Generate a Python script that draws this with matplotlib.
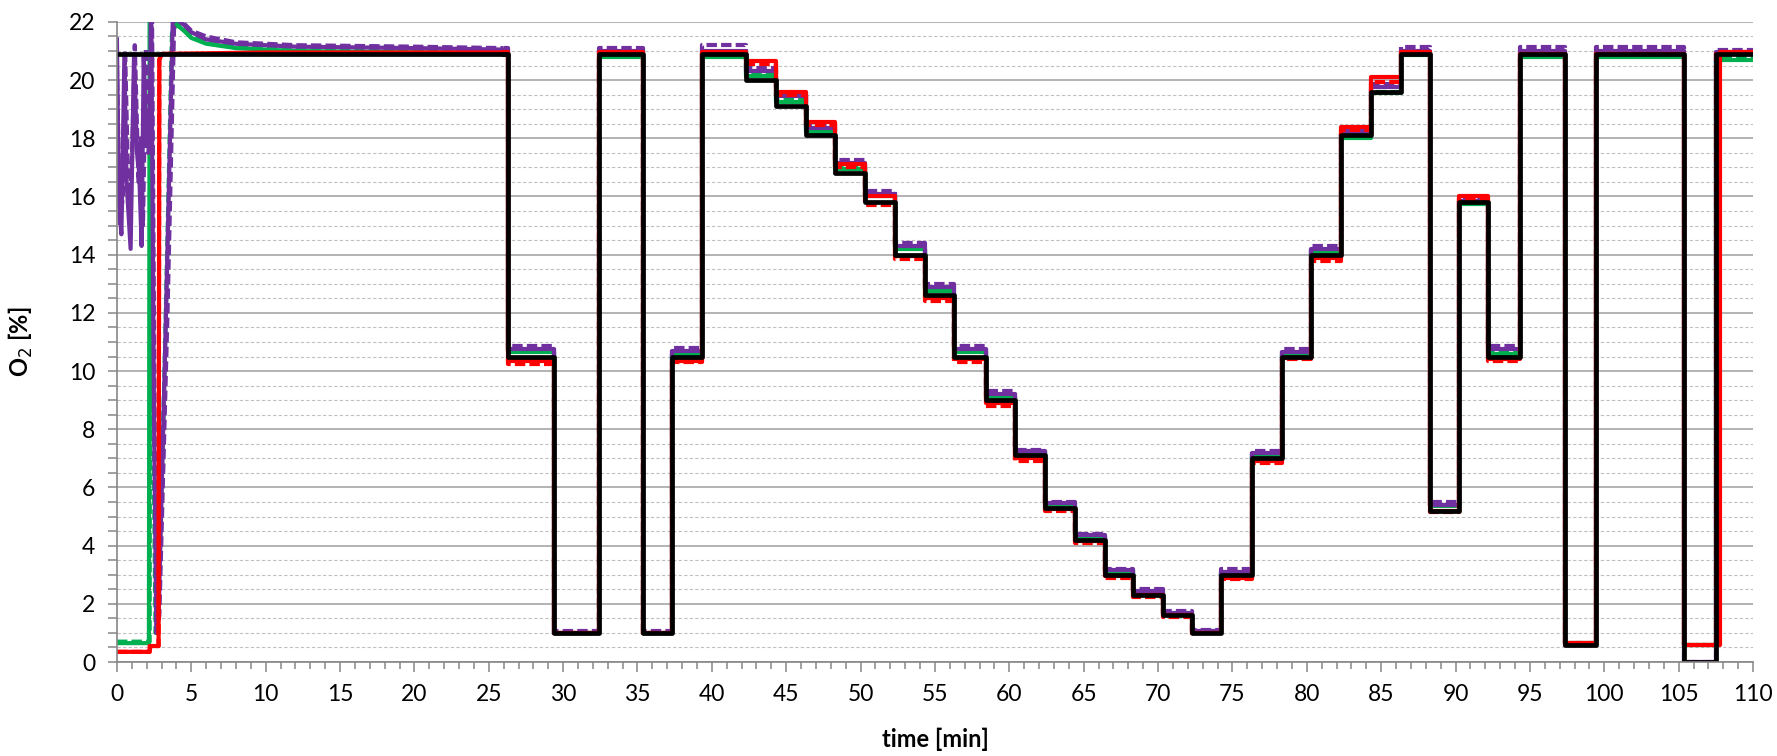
import matplotlib
matplotlib.use("Agg")
from matplotlib import pyplot as plt
from matplotlib.ticker import MultipleLocator

# times [min] where the set point changes (last entry = end of run)
step_times = [26.3, 29.4, 32.4, 35.4, 37.3, 39.35, 42.3, 44.3, 46.3, 48.3, 50.3,
              52.3, 54.3, 56.3, 58.4, 60.4, 62.4, 64.4, 66.4, 68.3, 70.35, 72.3,
              74.25, 76.3, 78.3, 80.3, 82.3, 84.3, 86.3, 88.3, 90.2, 92.2, 94.35,
              97.35, 99.45, 105.35, 107.5, 110]
# the red sensor comes back a bit later after the last purge
red_times = step_times[:-2] + [107.75, 110]

# O2 level held after each change
black_lv = [10.5, 1.0, 20.9, 1.0, 10.5, 20.9, 20.0, 19.1, 18.1, 16.8, 15.8, 14.0, 12.6,
            10.5, 9.0, 7.1, 5.3, 4.2, 3.0, 2.3, 1.6, 1.0, 3.0, 7.0, 10.5, 14.0, 18.1,
            19.6, 20.9, 5.2, 15.8, 10.5, 20.9, 0.6, 20.9, 0.0, 20.9]
red_lv = [10.35, 1.0, 20.95, 1.0, 10.35, 20.95, 20.65, 19.6, 18.55, 17.1, 16.0, 13.95,
          12.5, 10.4, 8.9, 7.0, 5.25, 4.15, 2.95, 2.3, 1.6, 1.0, 2.9, 6.9, 10.45, 13.9,
          18.4, 20.1, 20.95, 5.2, 16.0, 10.4, 20.9, 0.65, 20.9, 0.6, 20.95]
red2_lv = [10.25, 1.0, 20.9, 1.0, 10.3, 20.9, 20.55, 19.5, 18.45, 17.0, 15.7, 13.85,
           12.4, 10.3, 8.8, 6.9, 5.2, 4.1, 2.9, 2.25, 1.55, 1.0, 2.85, 6.85, 10.4, 13.8,
           18.3, 19.95, 20.9, 5.15, 15.9, 10.35, 20.9, 0.6, 20.9, 0.6, 20.9]
green_lv = [10.65, 1.0, 20.8, 1.0, 10.6, 20.8, 20.15, 19.25, 18.2, 16.95, 16.0, 14.2,
            12.75, 10.65, 9.1, 7.2, 5.4, 4.3, 3.1, 2.4, 1.65, 1.05, 3.05, 7.1, 10.55,
            14.1, 18.0, 19.55, 20.85, 5.35, 15.75, 10.6, 20.8, 0.65, 20.8, 0.6, 20.7]
green2_lv = [10.7, 1.0, 20.85, 1.0, 10.65, 20.85, 20.2, 19.3, 18.25, 17.0, 16.05, 14.25,
             12.8, 10.7, 9.15, 7.25, 5.45, 4.35, 3.15, 2.45, 1.7, 1.05, 3.1, 7.15, 10.6,
             14.15, 18.1, 19.6, 20.9, 5.4, 15.8, 10.65, 20.85, 0.65, 20.85, 0.6, 20.75]
purple_lv = [10.75, 1.0, 21.0, 1.0, 10.7, 21.0, 20.3, 19.45, 18.35, 17.15, 16.1, 14.3,
             12.9, 10.75, 9.2, 7.25, 5.45, 4.35, 3.15, 2.45, 1.7, 1.05, 3.1, 7.2, 10.65,
             14.2, 18.15, 19.75, 21.0, 5.4, 15.85, 10.75, 21.0, 0.6, 21.0, 0.0, 20.95]
purple2_lv = [10.85, 1.05, 21.1, 1.05, 10.8, 21.2, 20.4, 19.55, 18.45, 17.25, 16.2, 14.4,
              13.0, 10.85, 9.3, 7.3, 5.5, 4.4, 3.2, 2.5, 1.75, 1.1, 3.2, 7.25, 10.75,
              14.3, 18.25, 19.85, 21.15, 5.5, 15.95, 10.85, 21.15, 0.65, 21.15, 0.0, 21.05]

# start-up part of each trace (before the first set point change)
black_t0 = [0, 26.0]
black_v0 = [20.9, 20.9]
red_t0 = [0, 2.2, 2.2, 2.8, 2.85, 3.0, 10.0, 26.0]
red_v0 = [0.35, 0.35, 0.55, 0.55, 20.7, 20.9, 20.95, 20.95]
red2_t0 = [0, 2.2, 2.25, 2.8, 2.85, 3.0, 26.0]
red2_v0 = [0.35, 0.35, 0.55, 0.55, 20.7, 20.9, 20.9]
green_t0 = [0, 2.15, 2.2, 3.7, 3.9, 4.5, 5.0, 6.0, 8.0, 12.0, 20.0, 26.0]
green_v0 = [0.65, 0.65, 23.0, 23.0, 21.95, 21.7, 21.45, 21.25, 21.1, 21.0, 20.95, 20.9]
green2_t0 = [0, 2.2, 2.25, 2.45, 2.6, 2.75, 3.2, 3.7, 4.0, 4.5, 5.0, 6.0, 8.0, 12.0, 20.0, 26.0]
green2_v0 = [0.7, 0.7, 23.0, 8.0, 1.0, 1.5, 10.0, 21.6, 21.95, 21.75, 21.5, 21.3, 21.15,
             21.05, 21.0, 20.95]
purple_t0 = [0, 0.12, 0.3, 0.5, 0.65, 0.92, 1.15, 1.35, 1.5, 1.66, 1.8, 2.0, 2.2, 2.3,
             2.5, 2.65, 2.8, 3.3, 3.75, 4.0, 4.5, 5.0, 6.0, 8.0, 12.0, 20.0, 26.0]
purple_v0 = [21.4, 16.0, 14.7, 20.8, 16.5, 14.2, 20.9, 17.5, 16.8, 14.3, 20.8, 17.8, 17.7,
             23.0, 8.0, 1.0, 1.5, 12.0, 22.0, 22.1, 21.9, 21.65, 21.4, 21.25, 21.15,
             21.1, 21.05]
purple2_t0 = [0, 0.2, 0.4, 0.55, 0.8, 1.0, 1.2, 1.45, 1.6, 1.75, 1.95, 2.1, 2.25, 2.35,
              2.55, 2.7, 2.85, 3.4, 3.85, 4.05, 4.5, 5.0, 6.0, 8.0, 12.0, 20.0, 26.0]
purple2_v0 = [20.5, 15.0, 16.0, 21.0, 15.5, 17.0, 21.2, 16.5, 18.0, 15.0, 21.1, 17.5, 18.0,
              23.0, 7.0, 1.1, 1.6, 12.0, 22.0, 22.15, 21.95, 21.7, 21.5, 21.3, 21.2,
              21.15, 21.1]

dash = (0, (2.5, 1))
# drawing order: lowest first, reference (black) on top
series = [
    (green_t0, green_v0, step_times, green_lv, '#00B050', '-'),
    (green2_t0, green2_v0, step_times, green2_lv, '#00B050', dash),
    (purple_t0, purple_v0, step_times, purple_lv, '#7030A0', '-'),
    (purple2_t0, purple2_v0, step_times, purple2_lv, '#7030A0', dash),
    (red2_t0, red2_v0, step_times, red2_lv, '#FF0000', dash),
    (red_t0, red_v0, red_times, red_lv, '#FF0000', '-'),
    (black_t0, black_v0, step_times, black_lv, '#000000', '-'),
]

plt.rcParams['font.family'] = ['Lato', 'DejaVu Sans']

fig = plt.figure(figsize=(17.77, 7.56), dpi=100)
ax = fig.add_axes([0.0658, 0.1243, 0.9207, 0.8467])

for t0, v0, times, lv, col, ls in series:
    lw = 3.4 if col == '#000000' else 3.0
    ax.plot(t0, v0, color=col, ls=ls, lw=lw)
    xs = [t0[-1]] + times
    ys = [v0[-1]] + lv + [lv[-1]]
    ax.plot(xs, ys, color=col, ls=ls, lw=lw, drawstyle='steps-post')

ax.set_xlim(0, 110)
ax.set_ylim(0, 22)
ax.xaxis.set_major_locator(MultipleLocator(5))
ax.xaxis.set_minor_locator(MultipleLocator(1))
ax.yaxis.set_major_locator(MultipleLocator(2))
ax.yaxis.set_minor_locator(MultipleLocator(0.5))

ax.grid(which='major', axis='y', color='#A6A6A6', lw=1.2, ls='-')
ax.grid(which='minor', axis='y', color='#C0C0C0', lw=0.8, ls=(0, (3, 2)))
ax.set_axisbelow(True)

for s in ['top', 'right']:
    ax.spines[s].set_visible(False)
for s in ['left', 'bottom']:
    ax.spines[s].set_color('#868686')
    ax.spines[s].set_linewidth(1.2)

ax.tick_params(axis='x', which='major', length=7, width=1.1, color='#868686',
               labelsize=16.5, pad=9)
ax.tick_params(axis='x', which='minor', length=5, width=1.1, color='#868686')
ax.tick_params(axis='y', which='both', length=6.5, width=1.1, color='#868686',
               labelsize=16.5, pad=9)

ax.set_xlabel('time [min]', fontsize=17, fontweight='bold', labelpad=16)
ax.set_ylabel('O$_2$ [%]', fontsize=17, fontweight='bold', labelpad=24)

fig.savefig('out.png', dpi=100)
